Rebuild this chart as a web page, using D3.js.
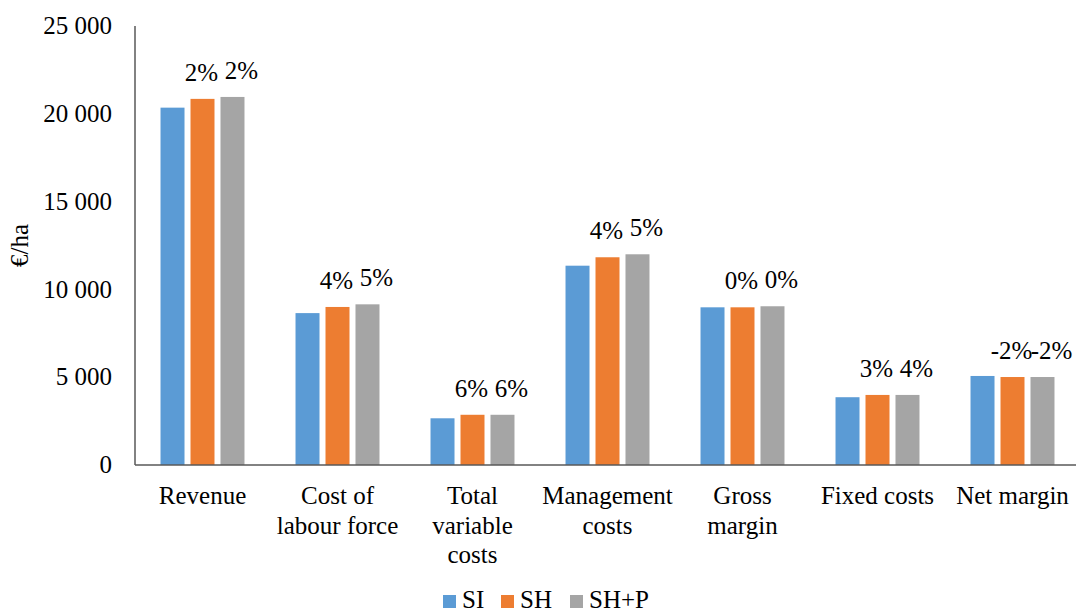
<!DOCTYPE html>
<html>
<head>
<meta charset="utf-8">
<script src="https://cdn.jsdelivr.net/npm/d3@7"></script>
<style>
  body { margin: 0; background: #fff; }
</style>
</head>
<body>
<div id="chart"></div>
<script>
// Chart data
const categories = ["Revenue", "Cost of labour force", "Total variable costs", "Management costs", "Gross margin", "Fixed costs", "Net margin"];
const categoryLines = [["Revenue"], ["Cost of", "labour force"], ["Total", "variable", "costs"], ["Management", "costs"], ["Gross", "margin"], ["Fixed costs"], ["Net margin"]];
const seriesNames = ["SI", "SH", "SH+P"];
const valuesSI = [20350, 8650, 2660, 11350, 8980, 3860, 5070];
const valuesSH = [20850, 9000, 2860, 11830, 8980, 3990, 5010];
const valuesSHP = [20960, 9150, 2860, 12000, 9040, 3990, 5010];
const pctSH = ["2%", "4%", "6%", "4%", "0%", "3%", "-2%"];
const pctSHP = ["2%", "5%", "6%", "5%", "0%", "4%", "-2%"];
const yTicks = [0, 5000, 10000, 15000, 20000, 25000];
const colors = ["#5B9BD5", "#ED7D31", "#A5A5A5"];

const width = 1076, height = 614;
const plot = { left: 135, right: 1080, top: 26, bottom: 465 };
const fontSize = "25px";

const svg = d3.select("#chart").append("svg")
    .attr("width", width)
    .attr("height", height)
    .attr("font-family", "'Liberation Serif', 'Times New Roman', serif")
    .attr("fill", "#000");

// Scales
const x0 = d3.scaleBand()
    .domain(categories)
    .range([plot.left, plot.right])
    .paddingInner(0.378)
    .paddingOuter(0.189);

const x1 = d3.scaleBand()
    .domain(seriesNames)
    .range([0, x0.bandwidth()])
    .paddingInner(0.2);

const y = d3.scaleLinear()
    .domain([0, 25000])
    .range([plot.bottom, plot.top]);

const fmt = d3.formatLocale({ decimal: ".", thousands: " ", grouping: [3], currency: ["", ""] }).format(",");

// Y axis labels
svg.append("g")
    .selectAll("text")
    .data(yTicks)
    .enter()
    .append("text")
    .attr("x", 112)
    .attr("y", d => y(d))
    .attr("dy", "0.33em")
    .attr("text-anchor", "end")
    .attr("font-size", fontSize)
    .text(d => fmt(d));

// Axis title
svg.append("text")
    .attr("transform", `translate(28,${(plot.top + plot.bottom) / 2}) rotate(-90)`)
    .attr("text-anchor", "middle")
    .attr("font-size", fontSize)
    .text("€/ha");

// Bars
const seriesValues = [valuesSI, valuesSH, valuesSHP];
const rows = categories.map((c, i) => ({
    cat: c,
    vals: seriesNames.map((s, j) => ({ s, j, v: seriesValues[j][i] }))
}));

const groups = svg.append("g")
    .selectAll("g")
    .data(rows)
    .enter()
    .append("g")
    .attr("transform", d => `translate(${x0(d.cat)},0)`);

groups.selectAll("rect")
    .data(d => d.vals)
    .enter()
    .append("rect")
    .attr("x", d => x1(d.s))
    .attr("y", d => y(d.v))
    .attr("width", x1.bandwidth())
    .attr("height", d => y(0) - y(d.v))
    .attr("fill", d => colors[d.j]);

// Percentage labels above SH and SH+P
const pctLabels = [pctSH, pctSHP];
groups.each(function (d, i) {
    const g = d3.select(this);
    [1, 2].forEach((j, k) => {
        g.append("text")
            .attr("x", x1(seriesNames[j]) + x1.bandwidth() / 2 + (k === 1 ? 9 : -1))
            .attr("y", y(seriesValues[j][i]) - 18)
            .attr("text-anchor", "middle")
            .attr("font-size", fontSize)
            .text(pctLabels[k][i]);
    });
});

// Axis lines
svg.append("line")
    .attr("x1", plot.left).attr("x2", plot.left)
    .attr("y1", plot.top).attr("y2", plot.bottom)
    .attr("stroke", "#595959").attr("stroke-width", 1.5);
svg.append("line")
    .attr("x1", plot.left).attr("x2", plot.right)
    .attr("y1", plot.bottom).attr("y2", plot.bottom)
    .attr("stroke", "#595959").attr("stroke-width", 1.5);

// Category labels
svg.append("g")
    .selectAll("text")
    .data(categories)
    .enter()
    .append("text")
    .attr("x", d => x0(d) + x0.bandwidth() / 2)
    .attr("y", 504)
    .attr("text-anchor", "middle")
    .attr("font-size", fontSize)
    .each(function (d, i) {
        d3.select(this).selectAll("tspan")
            .data(categoryLines[i])
            .enter()
            .append("tspan")
            .attr("x", x0(d) + x0.bandwidth() / 2)
            .attr("dy", (t, k) => k === 0 ? 0 : 29.5)
            .text(t => t);
    });

// Legend
const legendX = [443, 501, 570];
const legend = svg.append("g")
    .selectAll("g")
    .data(seriesNames)
    .enter()
    .append("g")
    .attr("transform", (d, i) => `translate(${legendX[i]},595)`);
legend.append("rect")
    .attr("width", 13).attr("height", 13)
    .attr("fill", (d, i) => colors[i]);
legend.append("text")
    .attr("x", 19)
    .attr("y", 13)
    .attr("font-size", fontSize)
    .text(d => d);
</script>
</body>
</html>
